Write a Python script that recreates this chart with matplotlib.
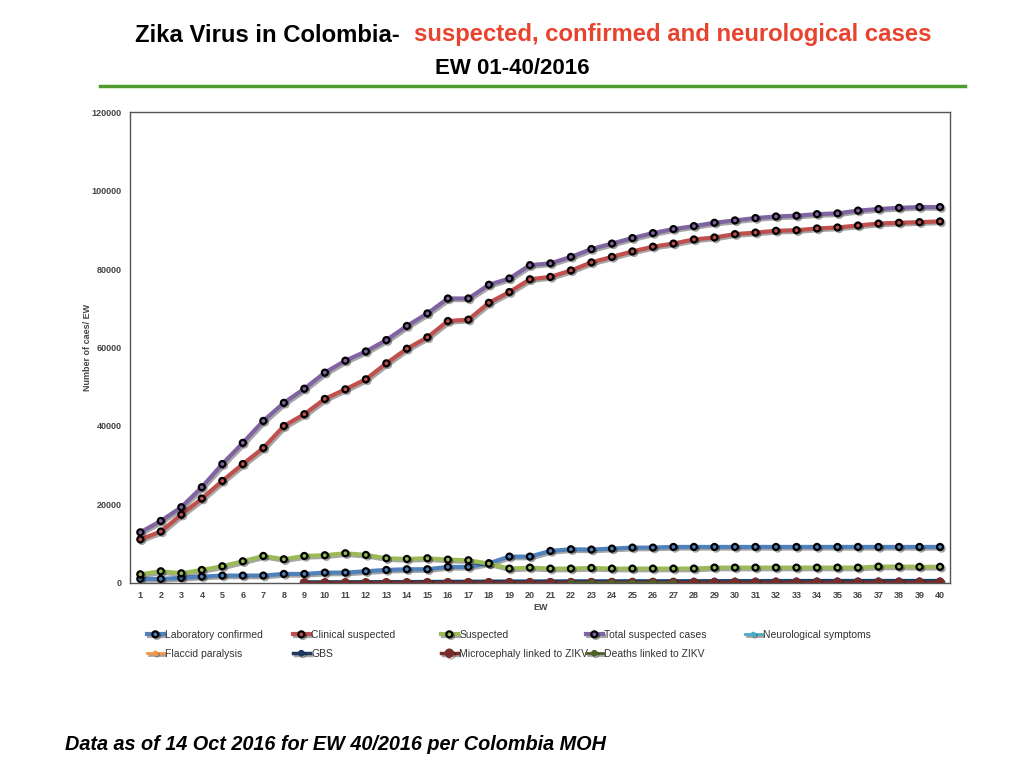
import numpy as np
import matplotlib.pyplot as plt
import matplotlib.patheffects as pe

plt.switch_backend('Agg')
plt.rcParams['font.family'] = ['Liberation Sans', 'DejaVu Sans']

weeks = list(range(1, 41))

lab_confirmed = [1020, 1020, 1270, 1610, 1870, 1870, 1870, 2290, 2290, 2630,
                 2630, 2970, 3310, 3480, 3480, 4080, 4080, 5010, 6710, 6710,
                 8150, 8580, 8500, 8750, 9000, 9000, 9170, 9170, 9170, 9170,
                 9170, 9170, 9170, 9170, 9170, 9170, 9170, 9170, 9170, 9170]
clinical_suspected = [11100, 13100, 17400, 21500, 26000, 30300, 34400, 40000, 43000, 46900,
                      49350, 51900, 55970, 59700, 62600, 66750, 67100, 71400, 74150, 77400,
                      78000, 79650, 81700, 83100, 84500, 85700, 86500, 87550, 88050, 88900,
                      89300, 89750, 89900, 90350, 90600, 91100, 91600, 91800, 91950, 92150]
suspected = [2200, 2970, 2460, 3300, 4250, 5520, 6880, 6030, 6880, 7050,
             7560, 7130, 6280, 6110, 6280, 5940, 5770, 4930, 3650, 3900,
             3650, 3650, 3820, 3650, 3650, 3650, 3650, 3650, 3900, 3900,
             3900, 3900, 3900, 3900, 3900, 3900, 4160, 4160, 4100, 4100]
total_suspected = [12900, 15800, 19300, 24400, 30300, 35700, 41300, 45900, 49500, 53600,
                   56650, 59000, 61900, 65500, 68700, 72500, 72500, 76000, 77600, 81000,
                   81450, 83100, 85100, 86500, 87900, 89170, 90190, 90950, 91800, 92400,
                   93000, 93400, 93600, 94000, 94200, 94900, 95300, 95600, 95800, 95800]
# bottom series start at EW 9
neuro_weeks = list(range(9, 41))
neurological = [300, 320, 340, 360, 380, 400, 420, 440, 460, 480,
                500, 520, 540, 560, 580, 600, 610, 620, 630, 640,
                650, 660, 670, 680, 690, 700, 700, 700, 700, 700, 700, 700]
gbs = [200, 220, 240, 260, 280, 300, 320, 340, 360, 380,
       390, 400, 410, 420, 430, 440, 450, 460, 470, 480,
       490, 500, 510, 520, 530, 540, 540, 540, 540, 540, 540, 540]
flaccid = [0] * 32
microcephaly = [20, 20, 25, 30, 30, 35, 40, 45, 50, 55,
                60, 65, 70, 75, 80, 85, 90, 95, 100, 105,
                110, 115, 120, 125, 130, 135, 140, 145, 150, 155, 160, 165]
death_weeks = [22, 23, 24, 25, 26, 27]
deaths = [5, 5, 6, 6, 7, 7]

labels = ['Laboratory confirmed', 'Clinical suspected', 'Suspected', 'Total suspected cases',
          'Neurological symptoms', 'Flaccid paralysis', 'GBS', 'Microcephaly linked to ZIKV',
          'Deaths linked to ZIKV']

fig = plt.figure(figsize=(10.24, 7.68), dpi=100)
ax = fig.add_axes([0.127, 0.241, 0.801, 0.613])

shadow = [pe.SimpleLineShadow(offset=(1.2, -1.2), alpha=0.35, shadow_color='black'), pe.Normal()]

def draw(x, y, color, label, ms=4.3, mfc=None, mec='black', lw=3, marker='o', mew=1.6):
    line, = ax.plot(x, y, color=color, lw=lw, marker=marker, ms=ms,
                    mfc=mfc if mfc else color, mec=mec, mew=mew,
                    label=label, path_effects=shadow)
    return line

h_lab = draw(weeks, lab_confirmed, '#4F81BD', labels[0])
h_cli = draw(weeks, clinical_suspected, '#C0504D', labels[1])
h_sus = draw(weeks, suspected, '#9BBB59', labels[2])
h_tot = draw(weeks, total_suspected, '#8064A2', labels[3])
h_neu = draw(neuro_weeks, neurological, '#4BACC6', labels[4], ms=3, mec='#4BACC6', lw=2, mew=0.8)
h_fla = draw(neuro_weeks, flaccid, '#F79646', labels[5], ms=3, mec='#F79646', lw=2, mew=0.8)
h_gbs = draw(neuro_weeks, gbs, '#1F3A5F', labels[6], ms=4, mec='#1F3A5F', lw=2.5, mew=0.8)
h_mic = draw(neuro_weeks, microcephaly, '#772C2A', labels[7], ms=6, mec='#772C2A', lw=2.5, mew=0.8)
h_dea = draw(death_weeks, deaths, '#4F6228', labels[8], ms=4, mec='#4F6228', lw=2, mew=0.8)

ax.set_xlim(0.5, 40.5)
ax.set_ylim(0, 120000)
ax.set_xticks(weeks)
ax.set_yticks(np.arange(0, 120001, 20000))
ax.tick_params(axis='both', length=0, labelsize=6.5, labelcolor='#444444', pad=6)
for t in ax.get_xticklabels() + ax.get_yticklabels():
    t.set_fontweight('bold')
for s in ax.spines.values():
    s.set_color('#555555')
    s.set_linewidth(1)

ax.set_xlabel('EW', fontsize=6.5, color='#444444', fontweight='bold', labelpad=2)
ax.set_ylabel('Number of caes/ EW', fontsize=6.5, color='#444444', fontweight='bold', labelpad=0)

# one small legend per column, fixed column positions like the original slide
columns = [[h_lab, h_fla], [h_cli, h_gbs], [h_sus, h_mic], [h_tot, h_dea], [h_neu]]
col_x = [147, 293, 441, 586, 745]
for hs, cx in zip(columns, col_x):
    leg = fig.legend(handles=hs, labels=[h.get_label() for h in hs],
                     loc='upper left', bbox_to_anchor=(cx / 1024, 1 - 630 / 768),
                     frameon=False, fontsize=7.5, handlelength=1.6, handletextpad=0.15,
                     borderpad=0, borderaxespad=0, labelspacing=0.85, labelcolor='#333333')

fig.text(400 / 1024, 1 - 35 / 768, 'Zika Virus in Colombia-', ha='right', va='center',
         fontsize=17.2, fontweight='bold', color='black')
fig.text(414 / 1024, 1 - 35 / 768, 'suspected, confirmed and neurological cases', ha='left',
         va='center', fontsize=17.2, fontweight='bold', color='#E8432E')
fig.text(0.5, 1 - 68 / 768, 'EW 01-40/2016', ha='center', va='center',
         fontsize=16, fontweight='bold', color='black')
fig.add_artist(plt.Line2D([100 / 1024, 965 / 1024], [1 - 86 / 768, 1 - 86 / 768],
                          color='#4E9A2E', lw=2.5))

fig.text(65 / 1024, 1 - 744 / 768, 'Data as of 14 Oct 2016 for EW 40/2016 per Colombia MOH',
         ha='left', va='center', fontsize=14.3, fontweight='bold', fontstyle='italic')

plt.savefig('out.png', dpi=100)
